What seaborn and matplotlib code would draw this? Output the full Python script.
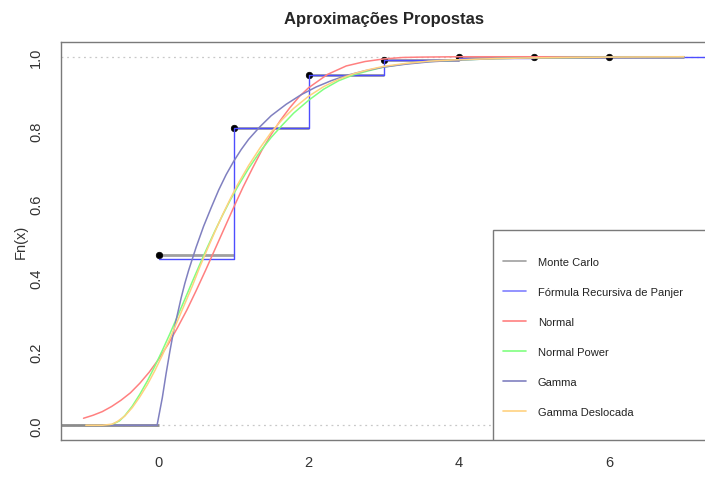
import numpy as np
import pandas as pd
import matplotlib
matplotlib.use("Agg")
import matplotlib.pyplot as plt
from matplotlib.patches import Rectangle
import seaborn as sns

# Monte Carlo ECDF (black points + grey steps)
mc_x = [0, 1, 2, 3, 4, 5, 6]
mc_y = [0.461, 0.807, 0.951, 0.990, 0.998, 0.9995, 1.0]
mc_end = 7.0

# Panjer recursion (blue step)
pj_x = [0, 1, 2, 3, 4, 5, 6, 7, 8]
pj_y = [0.451, 0.806, 0.951, 0.990, 0.997, 0.9995, 1.0, 1.0, 1.0]

# Normal approximation
nor_x = [-1.0, -0.875, -0.75, -0.625, -0.5, -0.375, -0.25, -0.125, 0.0, 0.125, 0.25,
         0.375, 0.5, 0.625, 0.75, 0.875, 1.0, 1.125, 1.25, 1.375, 1.5, 1.625, 1.75,
         1.875, 2.0, 2.25, 2.5, 2.75, 3.0, 3.25, 3.5, 4.0, 5.0, 6.0, 7.0]
nor_y = [0.019, 0.027, 0.037, 0.051, 0.068, 0.088, 0.114, 0.144, 0.179, 0.219, 0.264,
         0.312, 0.365, 0.420, 0.477, 0.534, 0.591, 0.646, 0.697, 0.746, 0.789, 0.828, 0.862,
         0.892, 0.916, 0.952, 0.975, 0.987, 0.994, 0.998, 0.999, 1.0, 1.0, 1.0, 1.0]

# Normal Power
np_x = [-0.64, -0.52, -0.45, -0.35, -0.25, -0.15, -0.05, 0.05, 0.15, 0.25, 0.35, 0.45,
        0.55, 0.65, 0.75, 0.85, 0.95, 1.05, 1.2, 1.35, 1.5, 1.65, 1.8, 2.0, 2.2, 2.4,
        2.6, 2.8, 3.0, 3.3, 3.6, 4.0, 4.5, 5.0, 6.0, 7.0]
np_y = [0.0, 0.012, 0.026, 0.052, 0.084, 0.12, 0.16, 0.203, 0.248, 0.295, 0.342, 0.39,
        0.437, 0.483, 0.527, 0.569, 0.609, 0.646, 0.697, 0.742, 0.781, 0.815, 0.847, 0.882,
        0.912, 0.935, 0.951, 0.962, 0.972, 0.981, 0.987, 0.991, 0.995, 0.997, 0.999, 1.0]

# Gamma
ga_x = [-0.64, -0.02, 0.05, 0.1, 0.15, 0.2, 0.25, 0.3, 0.35, 0.4, 0.5, 0.6, 0.7, 0.8,
        0.9, 1.0, 1.1, 1.2, 1.35, 1.5, 1.7, 1.9, 2.1, 2.3, 2.5, 2.75, 3.0, 3.3, 3.6,
        4.0, 4.5, 5.0, 6.0, 7.0]
ga_y = [0.0, 0.0, 0.075, 0.14, 0.20, 0.255, 0.30, 0.345, 0.385, 0.42, 0.483, 0.54, 0.59,
        0.638, 0.68, 0.716, 0.748, 0.776, 0.81, 0.84, 0.871, 0.897, 0.918, 0.935, 0.949,
        0.962, 0.972, 0.98, 0.986, 0.991, 0.995, 0.997, 0.999, 1.0]

# Gamma Deslocada
gd_x = [-0.97, -0.75, -0.62, -0.55, -0.45, -0.35, -0.25, -0.15, -0.05, 0.05, 0.15, 0.25,
        0.35, 0.45, 0.55, 0.65, 0.75, 0.85, 0.95, 1.05, 1.2, 1.35, 1.5, 1.65, 1.8, 2.0,
        2.2, 2.4, 2.6, 2.8, 3.0, 3.3, 3.6, 4.0, 4.5, 5.0, 6.0, 7.0]
gd_y = [0.0, 0.0, 0.003, 0.01, 0.025, 0.048, 0.077, 0.11, 0.148, 0.19, 0.235, 0.282,
        0.33, 0.378, 0.43, 0.478, 0.525, 0.57, 0.612, 0.652, 0.705, 0.752, 0.795, 0.83,
        0.86, 0.893, 0.919, 0.939, 0.954, 0.965, 0.974, 0.982, 0.988, 0.992, 0.995, 0.997,
        0.999, 1.0]

labels = ["Monte Carlo", "Fórmula Recursiva de Panjer", "Normal",
          "Normal Power", "Gamma", "Gamma Deslocada"]
colors = ["#a0a0a0", "#8080ff", "#ff8080", "#80ff80", "#8080c0", "#ffd280"]

sns.set_style("white")
plt.rcParams["font.family"] = ["Liberation Sans", "DejaVu Sans"]

fig = plt.figure(figsize=(7.05, 4.85), dpi=100)
ax = fig.add_axes([61 / 705, 44 / 485, 647 / 705, 398 / 485])
ax.set_xlim(-1.3, 7.32)
ax.set_ylim(-0.04, 1.04)

# reference lines at 0 and 1
for h in [0, 1]:
    ax.axhline(h, color="#c8c8c8", lw=0.9, ls=(0, (1.5, 3)), zorder=1)

# Monte Carlo ecdf
ax.hlines(0, ax.get_xlim()[0], mc_x[0], color="#8c8c8c", lw=2, zorder=2)
ax.hlines(mc_y, mc_x, mc_x[1:] + [mc_end], color=colors[0], lw=2, zorder=2)
sns.scatterplot(x=mc_x, y=mc_y, color="black", s=22, edgecolor="black", linewidth=0.5,
                ax=ax, zorder=3)

sns.lineplot(x=pj_x, y=pj_y, drawstyle="steps-post", color="#4d4dff", lw=1,
             ax=ax, estimator=None, sort=False, zorder=4)

curves = [(nor_x, nor_y), (np_x, np_y), (ga_x, ga_y), (gd_x, gd_y)]
for (cx, cy), c in zip(curves, colors[2:]):
    sns.lineplot(x=cx, y=cy, color=c, lw=1.1, ax=ax, estimator=None, sort=False, zorder=4)

for s in ax.spines.values():
    s.set_color("#7a7a7a")
    s.set_linewidth(1)

ax.set_xticks([0, 2, 4, 6])
ax.set_yticks([0.0, 0.2, 0.4, 0.6, 0.8, 1.0])
ax.set_yticklabels(["0.0", "0.2", "0.4", "0.6", "0.8", "1.0"], rotation=90, va="center")
ax.tick_params(axis="both", direction="out", length=7, width=1, color="#7a7a7a",
               labelsize=10.5, labelcolor="#333333")
ax.tick_params(axis="x", pad=4)
ax.tick_params(axis="y", pad=6)

ax.set_title("Aproximações Propostas", fontsize=12, fontweight="bold", pad=14)
ax.set_xlabel("x", fontsize=10.5, color="#333333", labelpad=14)
ax.set_ylabel("Fn(x)", fontsize=10.5, color="#333333", labelpad=1)

# legend box
ax.add_patch(Rectangle((0.6677, 0.0), 0.5, 0.5276, transform=ax.transAxes, clip_on=True,
                       facecolor="white", edgecolor="#7a7a7a", lw=1, zorder=9))
handles = [plt.Line2D([], [], color=c, lw=1.2) for c in colors]
leg = ax.legend(handles, labels, loc="upper left", bbox_to_anchor=(0.683, 0.459),
                fontsize=8, frameon=False, borderpad=0, labelspacing=1.79,
                handlelength=2.07, handletextpad=1.08, borderaxespad=0)
leg.set_zorder(10)
for t in leg.get_texts():
    t.set_color("#222222")

fig.savefig("out.png", dpi=100)
